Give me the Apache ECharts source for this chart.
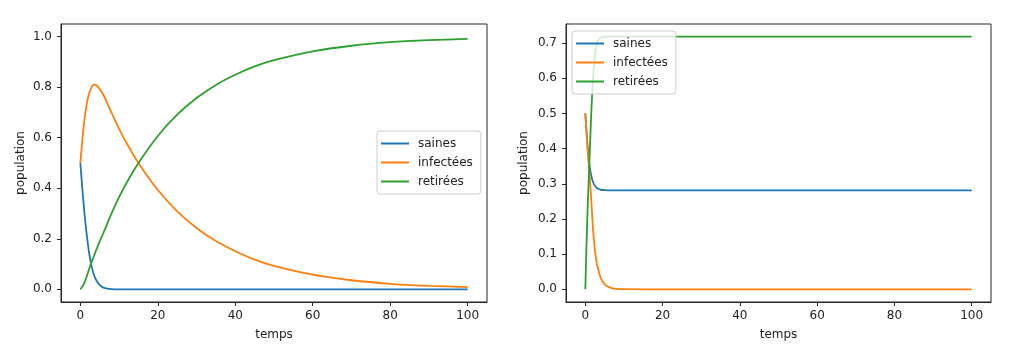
<!DOCTYPE html>
<html>
<head>
<meta charset="utf-8">
<script src="https://cdn.jsdelivr.net/npm/echarts@6/dist/echarts.min.js"></script>
<style>
    html, body { margin: 0; padding: 0; background: #fff; }
    #main { width: 1013px; height: 354px; }
</style>
</head>
<body>
<div id="main"></div>
<script>
// modèle SIR, deux jeux de paramètres
var noms = ['saines', 'infectées', 'retirées'];
var couleurs = ['#1f77b4', '#ff7f0e', '#2ca02c'];

// graphique de gauche
var tempsG = [0, 0.5, 1, 1.5, 2, 2.5, 3, 3.5, 4, 5, 6, 7, 8, 10, 12, 15, 20, 25, 30, 35, 40, 45, 50, 60, 70, 80, 90, 100];
var sainesG = [0.5, 0.40, 0.31, 0.235, 0.172, 0.122, 0.085, 0.058, 0.039, 0.017, 0.007, 0.003, 0.001, 0, 0, 0, 0, 0, 0, 0, 0, 0, 0, 0, 0, 0, 0, 0];
var infecteesG = [0.5, 0.59, 0.665, 0.72, 0.76, 0.787, 0.803, 0.81, 0.809, 0.793, 0.768, 0.735, 0.70, 0.635, 0.577, 0.50, 0.393, 0.309, 0.243, 0.191, 0.151, 0.118, 0.093, 0.058, 0.036, 0.022, 0.014, 0.0085];
var retireesG = [0, 0.01, 0.025, 0.045, 0.068, 0.091, 0.112, 0.132, 0.152, 0.19, 0.225, 0.262, 0.299, 0.365, 0.423, 0.50, 0.607, 0.691, 0.757, 0.809, 0.849, 0.882, 0.907, 0.942, 0.964, 0.978, 0.986, 0.991];

// graphique de droite
var tempsD = [0, 0.5, 1, 1.5, 2, 2.5, 3, 3.5, 4, 5, 6, 7, 8, 10, 20, 40, 60, 80, 100];
var sainesD = [0.5, 0.42, 0.358, 0.325, 0.305, 0.294, 0.288, 0.285, 0.283, 0.282, 0.281, 0.281, 0.281, 0.281, 0.281, 0.281, 0.281, 0.281, 0.281];
var infecteesD = [0.5, 0.41, 0.34, 0.262, 0.17, 0.11, 0.072, 0.05, 0.032, 0.014, 0.007, 0.003, 0.0015, 0.0005, 0, 0, 0, 0, 0];
var retireesD = [0, 0.2, 0.345, 0.49, 0.6, 0.665, 0.7, 0.71, 0.715, 0.718, 0.718, 0.718, 0.718, 0.718, 0.718, 0.718, 0.718, 0.718, 0.718];

var ticksX = [0, 20, 40, 60, 80, 100];
var ticksYG = [0, 0.2, 0.4, 0.6, 0.8, 1.0];
var ticksYD = [0, 0.1, 0.2, 0.3, 0.4, 0.5, 0.6, 0.7];

function paires(t, v) {
    return t.map(function (x, i) { return [x, v[i]]; });
}

var police = 'DejaVu Sans';
var couleurAxe = '#262626';

function axeX(idx) {
    return {
        type: 'value',
        gridIndex: idx,
        min: -5,
        max: 105,
        name: 'temps',
        nameLocation: 'middle',
        nameGap: 27,
        nameTextStyle: { fontFamily: police, fontSize: 12, color: '#222' },
        axisLine: { show: true, onZero: false, lineStyle: { color: couleurAxe, width: 1 } },
        axisTick: { show: true, length: 4, customValues: ticksX, lineStyle: { color: couleurAxe } },
        axisLabel: { customValues: ticksX, margin: 8, fontFamily: police, fontSize: 12, color: '#222' },
        splitLine: { show: false }
    };
}

function axeY(idx, min, max, ticks, gap) {
    return {
        type: 'value',
        gridIndex: idx,
        min: min,
        max: max,
        name: 'population',
        nameLocation: 'middle',
        nameGap: gap,
        nameTextStyle: { fontFamily: police, fontSize: 12, color: '#222' },
        axisLine: { show: true, onZero: false, lineStyle: { color: couleurAxe, width: 1 } },
        axisTick: { show: true, length: 4, customValues: ticks, lineStyle: { color: couleurAxe } },
        axisLabel: {
            customValues: ticks, margin: 9, fontFamily: police, fontSize: 12, color: '#222',
            formatter: function (v) { return v.toFixed(1); }
        },
        splitLine: { show: false }
    };
}

function serie(nom, idx, t, v, c) {
    return {
        name: nom,
        type: 'line',
        xAxisIndex: idx,
        yAxisIndex: idx,
        smooth: 0.3,
        showSymbol: false,
        symbol: 'none',
        lineStyle: { color: c, width: 1.8 },
        itemStyle: { color: c },
        data: paires(t, v)
    };
}

function legende(left, top) {
    return {
        data: noms,
        orient: 'vertical',
        left: left,
        top: top,
        icon: 'rect',
        itemWidth: 28,
        itemHeight: 2,
        itemGap: 6,
        padding: [6, 8, 6, 4],
        borderColor: '#ccc',
        borderWidth: 1,
        borderRadius: 3,
        backgroundColor: 'rgba(255,255,255,0.8)',
        selectedMode: false,
        textStyle: { fontFamily: police, fontSize: 12, color: '#222', lineHeight: 13, padding: [0, 0, 0, 4] }
    };
}

var chart = echarts.init(document.getElementById('main'), null, { renderer: 'canvas' });

var option = {
    backgroundColor: '#fff',
    animation: false,
    grid: [
        { left: 61, right: 526, top: 24, bottom: 52, show: true, borderColor: couleurAxe, borderWidth: 1 },
        { left: 566, right: 22, top: 24, bottom: 52, show: true, borderColor: couleurAxe, borderWidth: 1 }
    ],
    legend: [legende(377, 131), legende(572, 31)],
    xAxis: [axeX(0), axeX(1)],
    yAxis: [
        axeY(0, -0.05, 1.05, ticksYG, 34),
        axeY(1, -0.036, 0.754, ticksYD, 36)
    ],
    series: [
        serie(noms[0], 0, tempsG, sainesG, couleurs[0]),
        serie(noms[1], 0, tempsG, infecteesG, couleurs[1]),
        serie(noms[2], 0, tempsG, retireesG, couleurs[2]),
        serie(noms[0], 1, tempsD, sainesD, couleurs[0]),
        serie(noms[1], 1, tempsD, infecteesD, couleurs[1]),
        serie(noms[2], 1, tempsD, retireesD, couleurs[2])
    ]
};

chart.setOption(option);
</script>
</body>
</html>
